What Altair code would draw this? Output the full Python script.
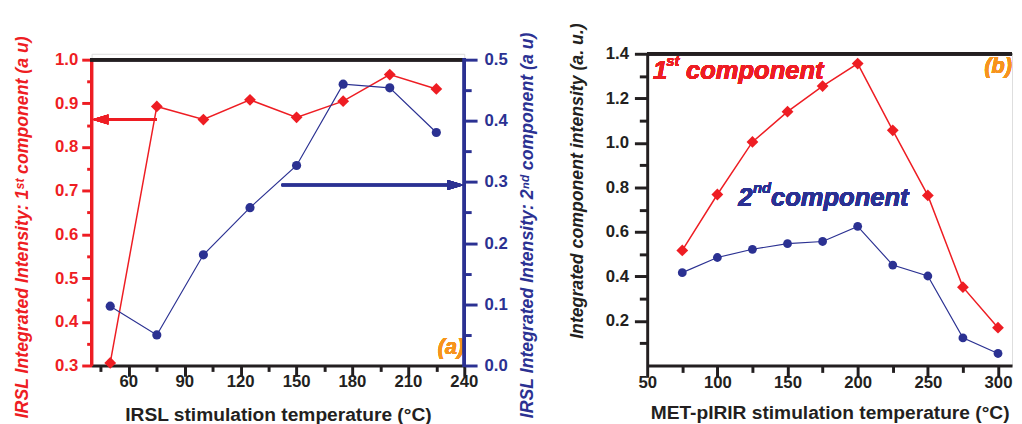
import altair as alt
import pandas as pd

RED = "#EE1D23"
NAVY = "#2B3192"
ORANGE = "#F7941D"
INK = "#231F20"
FONT = "Liberation Sans"

# ---------------- panel (a) data ----------------
a_temp = [50, 75, 100, 125, 150, 175, 200, 225]
a_first = [0.306, 0.893, 0.863, 0.908, 0.868, 0.905, 0.966, 0.933]
a_second = [0.097, 0.050, 0.181, 0.258, 0.327, 0.460, 0.454, 0.381]

# arrows of panel (a): (start x, end x, level)
a_red_arrow = [75, 40, 0.863]
a_blue_arrow = [142, 240, 0.295]

# ---------------- panel (b) data ----------------
b_temp = [75, 100, 125, 150, 175, 200, 225, 250, 275, 300]
b_first = [0.517, 0.768, 1.004, 1.140, 1.255, 1.356, 1.056, 0.764, 0.352, 0.170]
b_second = [0.417, 0.485, 0.522, 0.547, 0.557, 0.625, 0.451, 0.402, 0.124, 0.054]

# tick values: labelled (major) and unlabelled (minor)
a_x_major = [60, 90, 120, 150, 180, 210, 240]
a_x_minor = [45, 75, 105, 135, 165, 195, 225]
a_y1_major = [0.3, 0.4, 0.5, 0.6, 0.7, 0.8, 0.9, 1.0]
a_y1_minor = [0.35, 0.45, 0.55, 0.65, 0.75, 0.85, 0.95]
a_y2_major = [0.0, 0.1, 0.2, 0.3, 0.4, 0.5]
a_y2_minor = [0.05, 0.15, 0.25, 0.35, 0.45]
b_x_major = [50, 100, 150, 200, 250, 300]
b_x_minor = [75, 125, 175, 225, 275]
b_y_major = [0.2, 0.4, 0.6, 0.8, 1.0, 1.2, 1.4]
b_y_minor = [0.1, 0.3, 0.5, 0.7, 0.9, 1.1, 1.3]

dfa = pd.DataFrame({"t": a_temp, "first": a_first, "second": a_second})
dfb = pd.DataFrame({"t": b_temp, "first": b_first, "second": b_second})
dfa_ticks = pd.DataFrame({"t": a_x_major, "lab": [str(v) for v in a_x_major]})


def axis(orient, major_vals, minor_vals, color, title, major, minor, lpad,
         italic=False, title_size=18, domain=True, **kw):
    test = "indexof(%s, round(datum.value*1000)) >= 0" % [int(round(v * 1000)) for v in major_vals]
    return alt.Axis(
        orient=orient,
        values=sorted(major_vals + minor_vals),
        labelExpr=f"({test}) ? datum.label : ''",
        tickDash={"condition": {"test": f"!({test})", "value": [minor, 80]},
                  "value": [80, 0]},
        tickSize=major,
        tickWidth=3,
        tickColor=color,
        domain=domain,
        domainColor=color,
        domainWidth=3,
        labelColor=color,
        labelFont=FONT,
        labelFontSize=17,
        labelFontWeight="bold",
        labelPadding=lpad,
        labelOverlap=False,
        labelFlush=False,
        labelBound=False,
        grid=False,
        title=title,
        titleColor=color,
        titleFont=FONT,
        titleFontSize=title_size,
        titleFontWeight="bold",
        titleFontStyle="italic" if italic else "normal",
        **kw,
    )


# ---------------- panel (a) ----------------
WA, HA = 379, 317
GAP = 6  # panel (a) frame starts a few pixels below panel (b) frame
R_MAX = 1.0 + 0.7 * GAP / (HA - GAP)
B_MAX = 0.5 + 0.5 * GAP / (HA - GAP)

sx_a = alt.Scale(domain=[40, 240], nice=False, zero=False)
# tick labels of this axis are drawn by a text layer below
ax_xa = axis("bottom", a_x_major, a_x_minor, INK,
             "IRSL stimulation temperature (°C)", 11, 6, -3, title_size=19.5,
             format="d", labels=False, titlePadding=28)
sy_a1 = alt.Scale(domain=[0.3, R_MAX], nice=False, zero=False)
ax_ya1 = axis("left", a_y1_major, a_y1_minor, RED,
              "IRSL Integrated Intensity: 1ˢᵗ component (a u)", 10, 5, 4, italic=True,
              title_size=18, format=".1f", domain=False,
              titleAngle=270, titleBaseline="top", titleX=-79, titleY=176)
sy_a2 = alt.Scale(domain=[0.0, B_MAX], nice=False, zero=False)
ax_ya2 = axis("right", a_y2_major, a_y2_minor, NAVY,
              "IRSL Integrated Intensity: 2ⁿᵈ component (a u)", 13, 7, 7, italic=True,
              title_size=18, format=".1f", domain=False,
              titleAngle=270, titleBaseline="top", titleX=55, titleY=174)

xa = alt.X("t:Q", scale=sx_a, axis=ax_xa)
ya1 = alt.Y("first:Q", scale=sy_a1, axis=ax_ya1)
ya2 = alt.Y("second:Q", scale=sy_a2, axis=ax_ya2)


def xd_a(v):
    return alt.XDatum(v, type="quantitative", scale=sx_a, axis=ax_xa)


def yd_a1(v):
    return alt.YDatum(v, type="quantitative", scale=sy_a1, axis=ax_ya1)


def yd_a2(v):
    return alt.YDatum(v, type="quantitative", scale=sy_a2, axis=ax_ya2)


base_a = alt.Chart(dfa)
red_line = base_a.mark_line(color=RED, strokeWidth=1.5).encode(x=xa, y=ya1)
red_pts = base_a.mark_point(shape="diamond", filled=True, size=144, color=RED, opacity=1).encode(
    x=xa, y=ya1)
red_arrow = base_a.mark_rule(color=RED, strokeWidth=2.5).encode(
    x=xd_a(a_red_arrow[0]), x2=alt.X2Datum(a_red_arrow[1] + 3), y=yd_a1(a_red_arrow[2]))
red_head = base_a.mark_point(shape="M-1,0L1,-0.6L1,0.6Z", filled=True, size=289, color=RED,
                             opacity=1, xOffset=8.5).encode(
    x=xd_a(a_red_arrow[1]), y=yd_a1(a_red_arrow[2]))
label_a = base_a.mark_text(text="(a)", align="right", baseline="alphabetic", font=FONT,
                           fontSize=22, fontWeight="bold", fontStyle="italic",
                           color=ORANGE).encode(x=xd_a(240), y=yd_a1(0.327))
# frame lines of panel (a)
top_a = base_a.mark_rule(color=INK, strokeWidth=3).encode(
    x=alt.value(-1.5), x2=alt.value(WA + 1.5), y=alt.value(GAP))
left_a = base_a.mark_rule(color=RED, strokeWidth=3).encode(
    x=alt.value(0), y=alt.value(GAP - 1.5), y2=alt.value(HA))

red_group = alt.layer(red_line, red_pts, red_arrow, red_head, label_a, left_a, top_a)

blue_line = base_a.mark_line(color=NAVY, strokeWidth=1.2).encode(x=xa, y=ya2)
blue_pts = base_a.mark_circle(size=87, color=NAVY, opacity=1).encode(x=xa, y=ya2)
blue_arrow = base_a.mark_rule(color=NAVY, strokeWidth=2.5).encode(
    x=xd_a(a_blue_arrow[0]), x2=alt.X2Datum(a_blue_arrow[1] - 3), y=yd_a2(a_blue_arrow[2]))
blue_head = base_a.mark_point(shape="M1,0L-1,-0.6L-1,0.6Z", filled=True, size=289, color=NAVY,
                              opacity=1, xOffset=-8.5).encode(
    x=xd_a(a_blue_arrow[1]), y=yd_a2(a_blue_arrow[2]))
right_a = base_a.mark_rule(color=NAVY, strokeWidth=3).encode(
    x=alt.value(WA), y=alt.value(GAP - 1.5), y2=alt.value(HA + 1.5))
# x tick labels of panel (a)
xlabels_a = alt.Chart(dfa_ticks).mark_text(
    baseline="top", align="center", font=FONT, fontSize=17, fontWeight="bold", color=INK
).encode(x=xa, y=alt.value(HA + 9), text="lab:N")
blue_group = alt.layer(blue_line, blue_pts, blue_arrow, blue_head, right_a, xlabels_a)

panel_a = alt.layer(red_group, blue_group).resolve_scale(y="independent").properties(
    width=WA, height=HA)

# ---------------- panel (b) ----------------
WB, HB = 371, 317
sx_b = alt.Scale(domain=[50, 310], nice=False, zero=False)
ax_xb = axis("bottom", b_x_major, b_x_minor, INK,
             "MET-pIRIR stimulation temperature (°C)", 12, 7, -3, title_size=19.5,
             format="d", titlePadding=14)
sy_b = alt.Scale(domain=[0, 1.4], nice=False)
ax_yb = axis("left", b_y_major, b_y_minor, INK,
             "Integrated component intensity (a. u.)", 13, 8, 6, italic=True, format=".1f",
             titleAngle=270, titleBaseline="top", titleX=-80, titleY=129)

xb = alt.X("t:Q", scale=sx_b, axis=ax_xb)
yb = alt.Y("first:Q", scale=sy_b, axis=ax_yb)
yb2 = alt.Y("second:Q", scale=sy_b, axis=ax_yb)


def xd_b(v):
    return alt.XDatum(v, type="quantitative", scale=sx_b, axis=ax_xb)


def yd_b(v):
    return alt.YDatum(v, type="quantitative", scale=sy_b, axis=ax_yb)


base_b = alt.Chart(dfb)
b_red_line = base_b.mark_line(color=RED, strokeWidth=1.5).encode(x=xb, y=yb)
b_red_pts = base_b.mark_point(shape="diamond", filled=True, size=144, color=RED, opacity=1).encode(
    x=xb, y=yb)
b_blue_line = base_b.mark_line(color=NAVY, strokeWidth=1.2).encode(x=xb, y=yb2)
b_blue_pts = base_b.mark_circle(size=80, color=NAVY, opacity=1).encode(x=xb, y=yb2)
top_b = base_b.mark_rule(color=INK, strokeWidth=3).encode(
    x=alt.value(0), x2=alt.value(WB), y=alt.value(0))


def txt(s, x, y, color, size, dy=0):
    return base_b.mark_text(text=s, align="left", baseline="alphabetic", font=FONT,
                            fontSize=size, fontWeight="bold", fontStyle="italic",
                            color=color, dy=dy).encode(x=xd_b(x), y=yd_b(y))


ann = [
    txt("1", 54.2, 1.286, RED, 26),
    txt("st", 63.6, 1.286, RED, 15, dy=-13),
    txt("component", 77.6, 1.286, RED, 26),
    txt("2", 114.9, 0.716, NAVY, 26),
    txt("nd", 125.4, 0.716, NAVY, 15, dy=-13),
    txt("component", 138.2, 0.716, NAVY, 26),
]
label_b = base_b.mark_text(text="(b)", align="right", baseline="alphabetic", font=FONT,
                           fontSize=22, fontWeight="bold", fontStyle="italic",
                           color=ORANGE, dx=0).encode(x=xd_b(310), y=yd_b(1.313))

panel_b = alt.layer(b_red_line, b_red_pts, b_blue_line, b_blue_pts, top_b, *ann, label_b).properties(
    width=WB, height=HB)

chart = alt.hconcat(panel_a, panel_b, spacing=31).properties(
    padding={"left": 5, "top": 10, "right": 0, "bottom": 0}
).configure_view(stroke=None).configure(background="white")

chart.save("out.html", embed_options={"renderer": "svg", "actions": False})
